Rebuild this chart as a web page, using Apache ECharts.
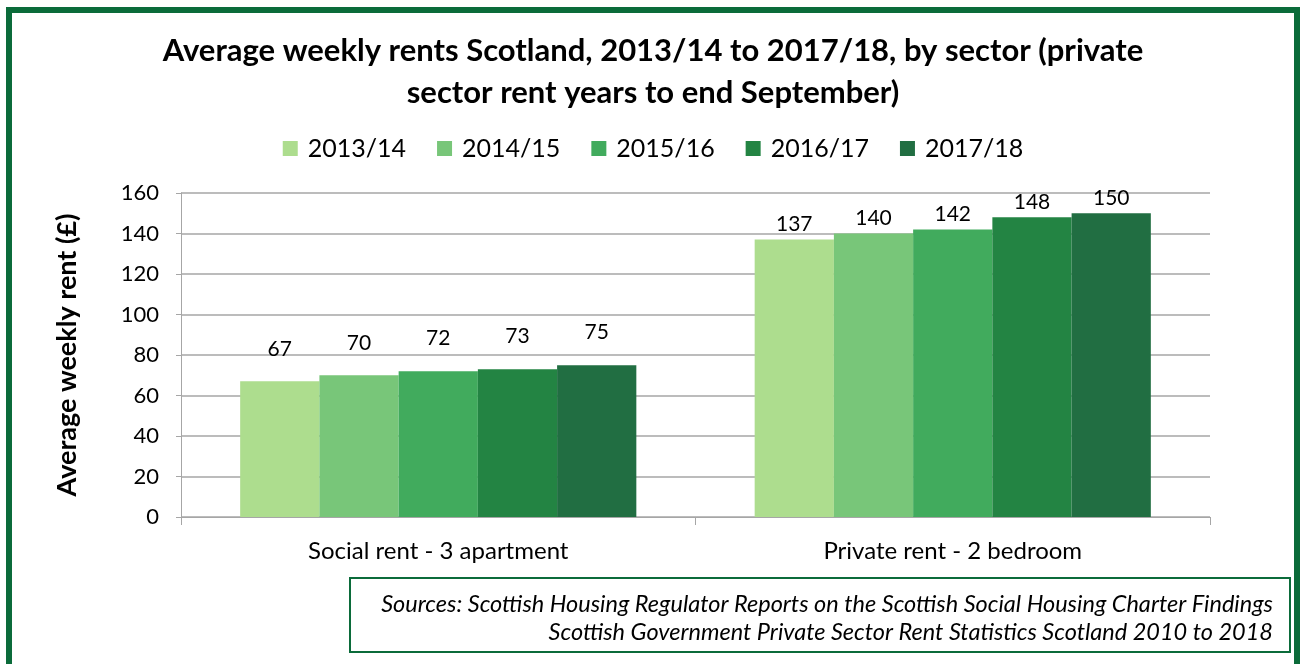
<!DOCTYPE html>
<html>
<head>
<meta charset="utf-8">
<script src="https://cdn.jsdelivr.net/npm/echarts@6/dist/echarts.min.js"></script>
<style>
  html, body { margin: 0; padding: 0; background: #fff; }
  #chart { width: 1306px; height: 664px; }
</style>
</head>
<body>
<div id="chart"></div>
<script>
const categories = ["Social rent - 3 apartment", "Private rent - 2 bedroom"];
const years = ["2013/14", "2014/15", "2015/16", "2016/17", "2017/18"];
const rents2013 = [67, 137];
const rents2014 = [70, 140];
const rents2015 = [72, 142];
const rents2016 = [73, 148];
const rents2017 = [75, 150];
const yTicks = [0, 20, 40, 60, 80, 100, 120, 140, 160];

const colors = ["#addd8e", "#78c679", "#41ab5d", "#238443", "#216e42"];
const labelGap = [22, 5];
const font = "Lato, 'Open Sans', sans-serif";

const chart = echarts.init(document.getElementById("chart"), null, { renderer: "canvas" });

const seriesValues = [rents2013, rents2014, rents2015, rents2016, rents2017];

chart.setOption({
  animation: false,
  color: colors,
  title: {
    text: "Average weekly rents Scotland, 2013/14 to 2017/18, by sector (private\nsector rent years to end September)",
    left: "center",
    top: 25,
    textStyle: { fontFamily: font, fontSize: 31, fontWeight: "bold", color: "#000", lineHeight: 42 }
  },
  legend: {
    top: 131,
    left: "center",
    itemWidth: 15,
    itemHeight: 15,
    itemGap: 31,
    icon: "rect",
    textStyle: { fontFamily: font, fontSize: 25, color: "#000", padding: [0, 0, 0, 5] },
    data: years
  },
  grid: { left: 181, right: 96, top: 193, bottom: 147 },
  xAxis: {
    type: "category",
    data: categories,
    axisLine: { lineStyle: { color: "#a6a6a6", width: 1 } },
    axisTick: { show: true, length: 8, lineStyle: { color: "#a6a6a6" } },
    axisLabel: { fontFamily: font, fontSize: 24, color: "#000", margin: 22 }
  },
  yAxis: {
    type: "value",
    min: yTicks[0],
    max: yTicks[yTicks.length - 1],
    interval: yTicks[1] - yTicks[0],
    name: "Average weekly rent (£)",
    nameLocation: "middle",
    nameGap: 100,
    nameTextStyle: { fontFamily: font, fontSize: 27, fontWeight: "bold", color: "#000" },
    axisLine: { show: true, lineStyle: { color: "#a6a6a6" } },
    axisTick: { show: true, length: 5, lineStyle: { color: "#a6a6a6" } },
    axisLabel: { fontFamily: font, fontSize: 22, color: "#000", margin: 22 },
    splitLine: { lineStyle: { color: "#a6a6a6", width: 1.5 } }
  },
  series: years.map((year, i) => ({
    name: year,
    type: "bar",
    barGap: "0%",
    barCategoryGap: "23%",
    data: seriesValues[i].map((v, c) => ({
      value: v,
      label: { distance: labelGap[c] }
    })),
    label: {
      show: true,
      position: "top",
      fontFamily: font,
      fontSize: 21,
      color: "#000"
    }
  })),
  graphic: [
    {
      type: "rect",
      shape: { x: 9, y: 10, width: 1288, height: 660 },
      style: { fill: "none", stroke: "#0b6b3a", lineWidth: 6 },
      silent: true
    },
    {
      type: "rect",
      shape: { x: 350, y: 578, width: 940, height: 74 },
      style: { fill: "none", stroke: "#0b6b3a", lineWidth: 2 }
    },
    {
      type: "text",
      x: 1273,
      y: 590,
      style: {
        text: "Sources: Scottish Housing Regulator Reports on the Scottish Social Housing Charter Findings\nScottish Government Private Sector Rent Statistics Scotland 2010 to 2018",
        align: "right",
        verticalAlign: "top",
        font: "italic 23.5px " + font,
        lineHeight: 28,
        fill: "#000"
      }
    }
  ]
});
</script>
</body>
</html>
